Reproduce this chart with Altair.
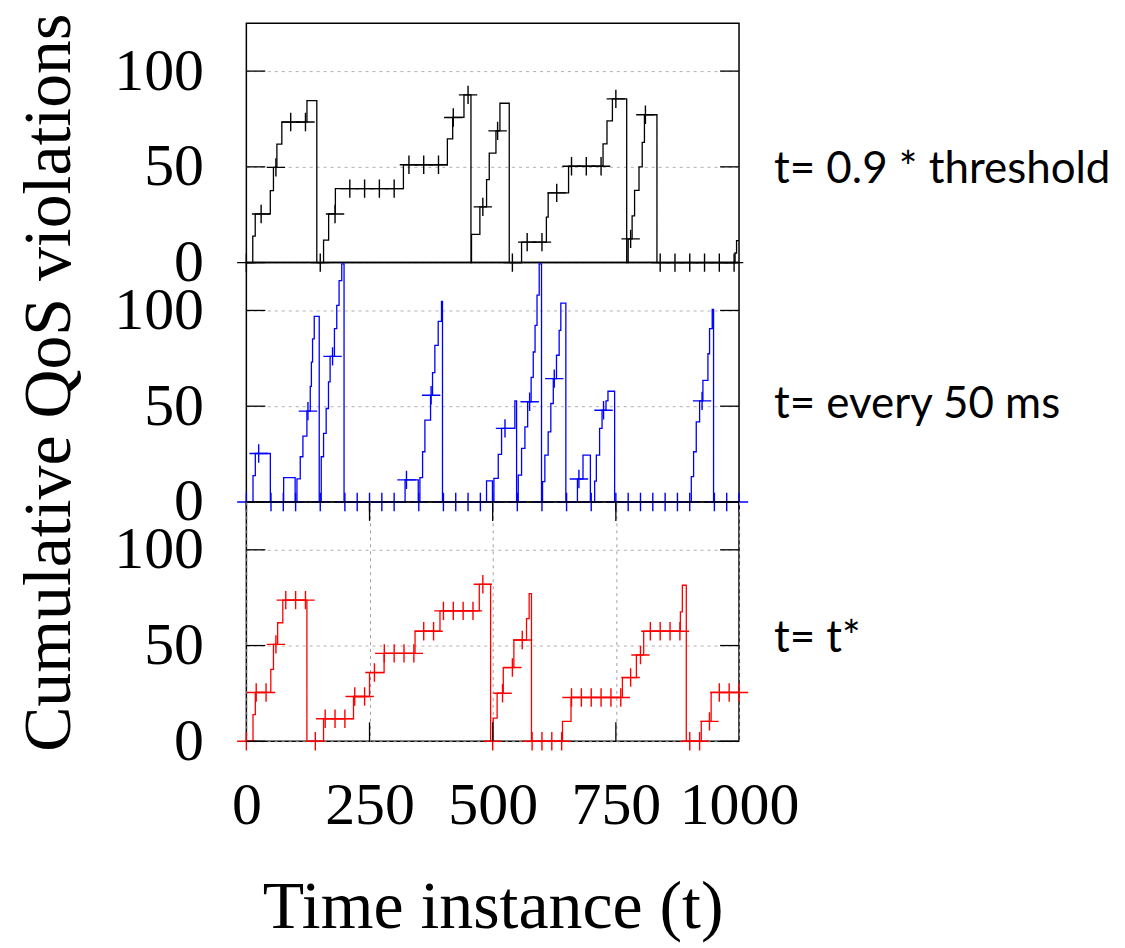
import altair as alt
import pandas as pd

# ---------------- data ----------------
# top panel: t = 0.9 * threshold (black)
black_t = [0, 13, 18, 48.6, 55, 62, 72, 123, 143, 156.7, 167, 180.7, 318.8, 408, 418.8, 441.7,
           455.9, 457, 474, 487.6, 493, 506.6, 514.7, 533.6, 558.6, 609, 612.6, 654, 724, 732, 743, 772,
           775, 783, 788, 797, 803.5, 808, 833.4, 992, 995, 1000]
black_v = [0, 13.8, 25.4, 37.6, 49.7, 61.9, 73.4, 84.6, 0, 11.7, 25.4, 38.6, 51.1, 64.6, 75.8, 87.6,
           0, 14.7, 29.1, 43.3, 57.2, 68.8, 83.2, 0, 10.7, 23.7, 36.4, 50.3, 62, 74, 85.5, 0,
           12.4, 24.4, 37.7, 50, 62.8, 77.2, 0, 5, 11.5, 11.5]
black_mark_t = [0, 30, 60, 90, 120, 150, 180, 210, 240, 270, 300, 330, 360, 390, 420, 450, 480,
                510, 540, 570, 600, 630, 660, 690, 720, 750, 780, 810, 840, 870, 900, 930, 960, 990]
black_mark_v = [0, 25.4, 49.7, 73.4, 73.4, 0, 25.4, 38.6, 38.6, 38.6, 38.6, 51.1, 51.1, 51.1, 75.8,
                87.6, 29.1, 68.8, 0, 10.7, 10.7, 36.4, 50.3, 50.3, 50.3, 85.5, 12.4, 77.2,
                0, 0, 0, 0, 0, 0]

# middle panel: t = every 50 ms (blue)
blue_t = [0, 13.5, 18.2, 48.7, 75.7, 99, 102.7, 109.4, 114.8, 122.9,
          129.7, 132, 134.4, 137.8, 147.9, 152, 156.7, 162, 166.7, 170,
          178.8, 183.5, 188.2, 193.6, 198.3, 322.2, 348.9, 352.3, 357.7, 362.4,
          373.9, 377.9, 382.6, 389.4, 396.1, 398.1, 487.5, 499.5, 502.5, 511.3,
          518, 545, 548.5, 551.9, 558.6, 565.4, 571, 578, 582.3, 586,
          590, 594.4, 599.1, 601.2, 605.9, 612.6, 618, 623, 629.5, 634.9,
          638.3, 648.5, 672, 683.3, 698.3, 707, 710.4, 717, 722, 730,
          734, 747.5, 903.1, 907.8, 913.2, 920, 926.7, 936.9, 940.2, 945.6,
          948.3, 1000]
blue_v = [0, 13.7, 25.3, 0, 12.7, 0, 12, 23.6, 34.4, 47.4,
          60.4, 73, 85.2, 96.9, 0, 23.6, 35.8, 48.8, 62.7, 76,
          90.5, 102.6, 115.6, 124.3, 0, 11.5, 0, 12.7, 26.2, 42.7,
          55.7, 67.5, 81.8, 94.3, 104.7, 0, 11, 0, 12.3, 24.8,
          38.4, 52.8, 0, 14, 28, 39.2, 52.3, 65, 78.3, 92.2,
          108, 124.3, 0, 10.6, 24.5, 36.6, 51.4, 64.4, 76.6, 89.6,
          103.8, 0, 12, 24.5, 0, 10.9, 24.5, 38.4, 47.9, 52.8,
          57.8, 0, 13.2, 26.2, 41.8, 52.8, 63.5, 77.4, 90.5, 100.5,
          0, 0]
blue_mark_t = [0, 25, 50, 75, 100, 125, 150, 175, 200, 225, 250, 275, 300, 325, 350, 375, 400,
               425, 450, 475, 500, 525, 550, 575, 600, 625, 650, 675, 700, 725, 750, 775, 800,
               825, 850, 875, 900, 925, 950, 975, 1000]
blue_mark_v = [0, 25.3, 0, 0, 0, 47.4, 0, 76, 0, 0, 0, 0, 0, 11.5, 0, 55.7, 0,
               0, 0, 0, 0, 38.4, 0, 52.3, 0, 64.4, 0, 12, 0, 47.9, 0, 0, 0,
               0, 0, 0, 0, 52.8, 0, 0, 0]

# bottom panel: t = t* (red)
red_t = [0, 13.5, 18.2, 49.6, 55, 63.5, 74, 122.9, 156.7, 217.5,
         250, 279.6, 342.4, 393, 472.8, 495.8, 501, 509, 521.5, 543,
         568.7, 574, 578.7, 641.7, 659, 763.3, 791.7, 806.5, 881, 885,
         893, 923.4, 943.4, 1000]
red_v = [0, 13.9, 25.5, 37.6, 50.6, 61.9, 73.7, 0, 11.8, 23.4,
         35.9, 45.9, 57.5, 68.1, 82, 0, 12.1, 25.1, 38.5, 52.9,
         64.1, 77.1, 0, 10.4, 22.9, 33.3, 45.1, 57.5, 67.6, 81.5,
         0, 10.4, 25.5, 25.5]
red_mark_t = [0, 20, 40, 60, 80, 100, 120, 140, 160, 180, 200, 220, 240, 260, 280, 300, 320,
              340, 360, 380, 400, 420, 440, 460, 480, 500, 520, 540, 560, 580, 600, 620, 640,
              660, 680, 700, 720, 740, 760, 780, 800, 820, 840, 860, 880, 900, 920, 940, 960,
              980, 1000]
red_mark_v = [0, 25.5, 25.5, 50.6, 73.7, 73.7, 73.7, 0, 11.8, 11.8,
              11.8, 23.4, 23.4, 35.9, 45.9, 45.9, 45.9, 45.9, 57.5, 57.5,
              68.1, 68.1, 68.1, 68.1, 82, 0, 25.1, 38.5, 52.9, 0,
              0, 0, 0, 22.9, 22.9, 22.9, 22.9, 22.9, 22.9, 33.3,
              45.1, 57.5, 57.5, 57.5, 57.5, 0, 0, 10.4, 25.5, 25.5,
              25.5]

y_ticks = [0, 50, 100]
x_ticks = [0, 250, 500, 750, 1000]
labels = ["t= 0.9 * threshold", "t= every 50 ms", "t= t*"]

# ---------------- styling ----------------
W, H = 494, 240
SERIF = "Liberation Serif"
SANS = "Lato"
TICK = 19
CROSS = "M-1,0L1,0M0,-1L0,1"

xs = alt.Scale(domain=[0, 1000], nice=False, zero=False)
ys = alt.Scale(domain=[0, 125], nice=False)


def panel(lt, lv, mt, mv, color, label, label_y, bottom=False, ytitle=False):
    line_df = pd.DataFrame({"t": lt, "v": lv})
    mk_df = pd.DataFrame({"t": mt, "v": mv})
    yt_df = pd.DataFrame({"v": y_ticks})

    yaxis_kw = dict(values=y_ticks, grid=True, gridDash=[3, 4], gridColor="#b0b0b0",
                    gridWidth=1, ticks=False, domain=False, labelFont=SERIF,
                    labelFontSize=60, labelPadding=43, labelColor="black")
    if ytitle:
        yaxis_kw.update(titleFont=SERIF, titleFontSize=68,
                        titleFontWeight="normal", titlePadding=30, titleColor="black")
    yaxis = alt.Axis(**yaxis_kw)

    if bottom:
        xaxis = alt.Axis(values=x_ticks, format="d", grid=True, gridDash=[3, 4],
                         gridColor="#a0a0a0", ticks=False, domain=False, labelFont=SERIF,
                         labelFontSize=60, labelPadding=35, labelFlush=False,
                         labelOverlap=False, labelColor="black", titleFont=SERIF,
                         titleFontSize=68, titleFontWeight="normal", titlePadding=39,
                         titleColor="black")
        xenc = alt.X("t:Q", scale=xs, axis=xaxis, title="Time instance (t)")
    else:
        xenc = alt.X("t:Q", scale=xs, axis=None)

    if ytitle:
        yenc = alt.Y("v:Q", scale=ys, axis=yaxis, title="Cumulative QoS violations")
    else:
        yenc = alt.Y("v:Q", scale=ys, axis=yaxis, title=None)

    line = alt.Chart(line_df).mark_line(interpolate="step-after", color=color,
                                         strokeWidth=1.3).encode(x=xenc, y=yenc)
    marks = alt.Chart(mk_df).mark_point(shape=CROSS, size=340, filled=False, color=color,
                                        strokeWidth=1.4, opacity=1).encode(
        x=alt.X("t:Q", scale=xs), y=alt.Y("v:Q", scale=ys))
    tl = alt.Chart(yt_df).mark_rule(color="black", strokeWidth=1.3).encode(
        y=alt.Y("v:Q", scale=ys), x=alt.value(0), x2=alt.value(TICK))
    tr = alt.Chart(yt_df).mark_rule(color="black", strokeWidth=1.3).encode(
        y=alt.Y("v:Q", scale=ys), x=alt.value(W - TICK), x2=alt.value(W))
    txt = alt.Chart(pd.DataFrame({"s": [label]})).mark_text(
        align="left", baseline="alphabetic", font=SANS, fontSize=44, color="black",
        x=W + 35, y=label_y).encode(text="s:N")
    layers = [line, marks, tl, tr, txt]
    if bottom:
        xt_df = pd.DataFrame({"t": x_ticks[1:-1]})
        xb = alt.Chart(xt_df).mark_rule(color="black", strokeWidth=1.3).encode(
            x=alt.X("t:Q", scale=xs), y=alt.value(H - TICK), y2=alt.value(H))
        xtop = alt.Chart(xt_df).mark_rule(color="black", strokeWidth=1.3).encode(
            x=alt.X("t:Q", scale=xs), y=alt.value(0), y2=alt.value(TICK))
        layers += [xb, xtop]
    return alt.layer(*layers).properties(width=W, height=H)


top = panel(black_t, black_v, black_mark_t, black_mark_v, "#000000", labels[0], 160)
mid = panel(blue_t, blue_v, blue_mark_t, blue_mark_v, "#0000ff", labels[1], 156, ytitle=True)
bot = panel(red_t, red_v, red_mark_t, red_mark_v, "#ff0000", labels[2], 150, bottom=True)

chart = alt.vconcat(top, mid, bot, spacing=0, bounds="flush").configure_view(
    stroke="black", strokeWidth=1.5).properties(
    background="white", padding={"left": 7, "top": 3, "right": 5, "bottom": 5})

chart.save("out.html", embed_options={"renderer": "svg", "actions": False})
